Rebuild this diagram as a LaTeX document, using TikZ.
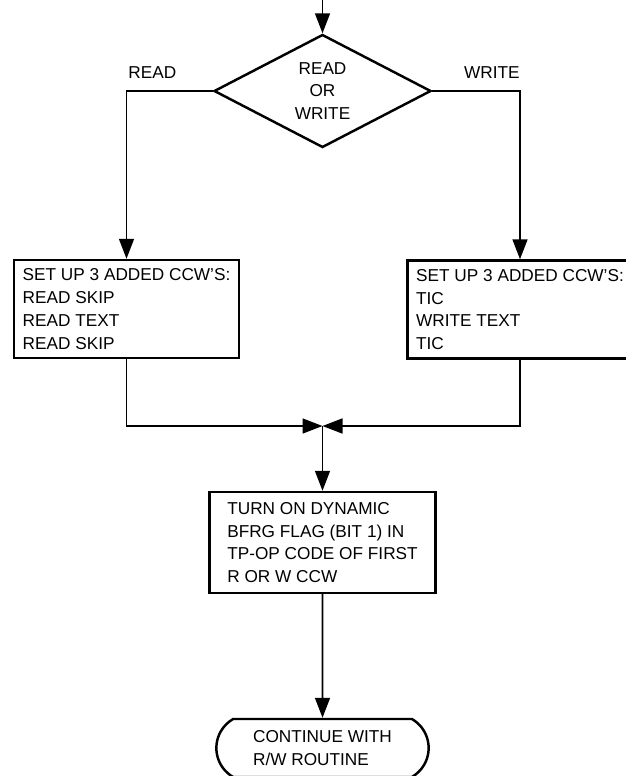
\documentclass[tikz,border=0pt]{standalone}
\usepackage{fontspec}
\setmainfont{Liberation Sans}
\usetikzlibrary{arrows.meta,positioning,shapes.geometric,shapes.misc}

\begin{document}
\begin{tikzpicture}[
  x=0.2mm, y=-0.2mm,
  font=\fontsize{9.8}{13}\selectfont, line width=0.9pt,
  box/.style={draw, line width=1.4pt, align=left, inner sep=0pt, minimum width=45mm, minimum height=19.6mm},
  choice/.style={diamond, draw, line width=1.4pt, align=center, inner sep=0pt, minimum width=43.4mm, minimum height=20.8mm},
  term/.style={rounded rectangle, rounded rectangle arc length=120, draw, line width=1.4pt, align=left, minimum width=44.8mm, minimum height=11.6mm},
  lab/.style={above=1.2mm},
  >={Triangle[length=4mm, width=3mm]}]
\useasboundingbox (0,0) rectangle (626,776);
\coordinate (entry) at (322.5,0);
\node[choice] (rw) at (322.5,91) {READ\\OR\\WRITE};
\node[box] (rdccw) at (126.5,309) {SET UP 3 ADDED CCW'S:\\READ SKIP\\READ TEXT\\READ SKIP};
\node[box] (wrccw) at (520,309.5) {SET UP 3 ADDED CCW'S:\\TIC\\WRITE TEXT\\TIC};
\coordinate (join) at (322.5,426);
\node[box, minimum width=45.2mm, minimum height=20.2mm] (bfrg) at (322.5,542.5) {TURN ON DYNAMIC\\BFRG FLAG (BIT 1) IN\\TP-OP CODE OF FIRST\\R OR W CCW};
\node[term] (cont) at (322.5,748) {CONTINUE WITH\hspace{3mm}\\R/W ROUTINE};
\draw[->] (entry) -- (rw.north);
\draw[->] (rw.west) -| node[lab, pos=0.35]{READ} (rdccw.north);
\draw[->] (rw.east) -| node[lab, pos=0.34]{WRITE} (wrccw.north);
\draw[->] (rdccw.south) |- (join);
\draw[->] (wrccw.south) |- (join);
\draw[->] (join) -- (bfrg.north);
\draw[->] (bfrg) -- (cont);
\end{tikzpicture}
\end{document}
